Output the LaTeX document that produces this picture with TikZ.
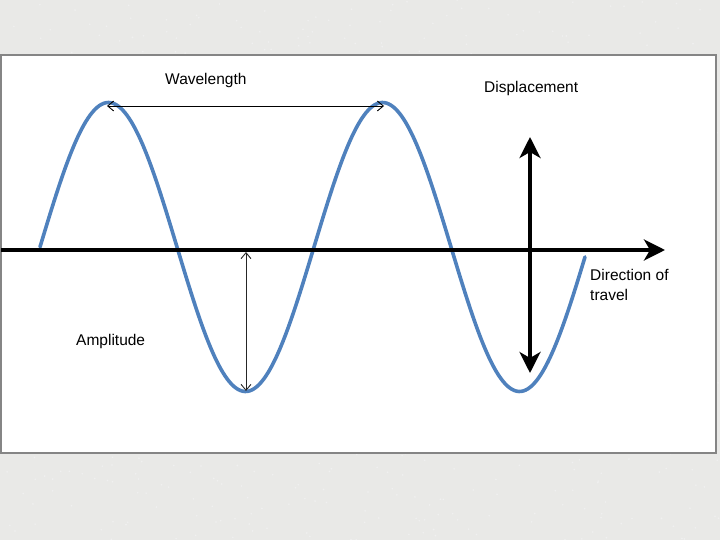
\documentclass[tikz,border=0pt]{standalone}
\usepackage{fontspec}
\setmainfont{Liberation Sans}
\usetikzlibrary{arrows.meta}
\definecolor{bggray}{HTML}{E9E9E7}
\definecolor{panelborder}{HTML}{858585}
\definecolor{wavecol}{HTML}{4F81BD}
\tikzset{
  lbl/.style={anchor=base west, inner sep=0pt, font=\fontsize{15.5}{19}\selectfont},
  thinarrow/.style={line width=0.9pt, {Straight Barb[length=6pt,width=10pt]}-{Straight Barb[length=6pt,width=10pt]}},
  thickarrow/.style={line width=4pt, -{Stealth[length=21pt,width=21pt,inset=6pt]}},
  wave/.style={wavecol, line width=3.6pt, line cap=round, line join=round}
}
\begin{document}
\begin{tikzpicture}[x=1pt,y=-1pt]
\useasboundingbox (0,0) rectangle (720,540);
\fill[bggray] (0,0) rectangle (720,540);
% texture dots
\pgfmathsetseed{7}
\foreach \i in {1,...,900}{
  \pgfmathsetmacro{\rx}{720*rnd}
  \pgfmathsetmacro{\ry}{540*rnd}
  \fill[black!6] (\rx,\ry) circle (0.9);
}
\filldraw[fill=white, draw=panelborder, line width=2pt] (1,55) rectangle (716,453);

% wave
\draw[wave] plot[domain=40:585, samples=240, smooth] (\x, {247-144.5*sin((\x-40)/274*360)});

% axis
\coordinate (axL) at (1,250);
\coordinate (axR) at (665,250);
\draw[thickarrow] (axL) -- (axR);

% displacement double arrow
\coordinate (dispC) at (530,250);
\coordinate (dispT) at (530,137);
\coordinate (dispB) at (530,373);
\draw[thickarrow] (dispC) -- (dispT);
\draw[thickarrow] (dispC) -- (dispB);

% wavelength arrow
\coordinate (wlA) at (107,106);
\coordinate (wlB) at (384,106);
\draw[thinarrow] (wlA) -- (wlB);

% amplitude arrow
\coordinate (amA) at (246,252);
\coordinate (amB) at (246,391);
\draw[thinarrow, black!85] (amA) -- (amB);

% labels
\node[lbl] (wl) at (165,85) {Wavelength};
\node[lbl] (disp) at (484,93) {Displacement};
\node[lbl] (dir1) at (590,280) {Direction of};
\node[lbl] (dir2) at (590,300) {travel};
\node[lbl] (amp) at (76,345) {Amplitude};
\end{tikzpicture}
\end{document}
